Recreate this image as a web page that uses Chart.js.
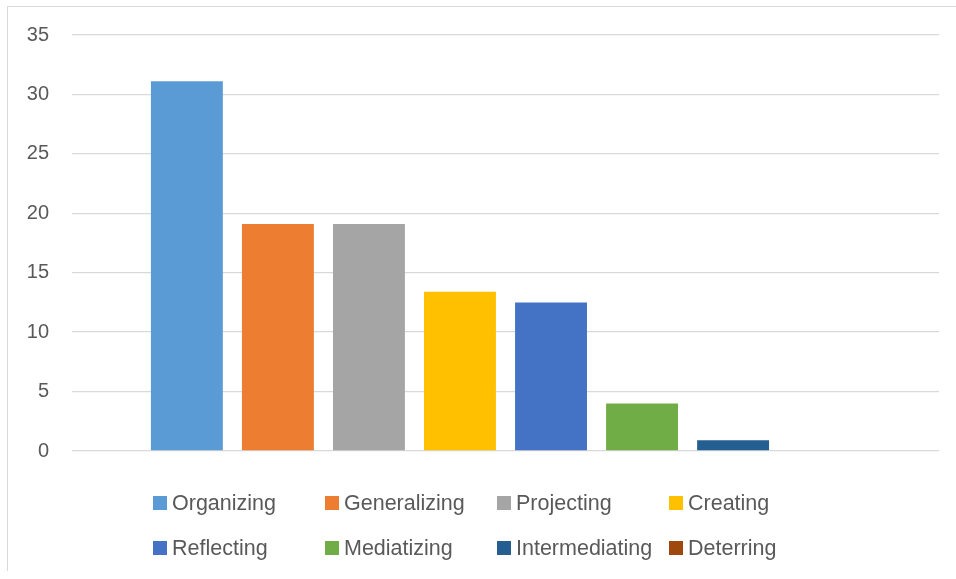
<!DOCTYPE html>
<html>
<head>
<meta charset="utf-8">
<script src="https://cdn.jsdelivr.net/npm/chart.js@4/dist/chart.umd.min.js"></script>
<style>
    html, body { margin: 0; padding: 0; background: #fff; }
    .wrap { position: relative; width: 956px; height: 579px; overflow: hidden; }
    .frame { position: absolute; left: 7px; top: 6px; width: 1000px; height: 564px;
             border-left: 1px solid #d9d9d9; border-top: 1px solid #d9d9d9; }
    canvas { position: absolute; left: 0; top: 0; }
</style>
</head>
<body>
<div class="wrap">
    <div class="frame"></div>
    <canvas id="grafico" width="956" height="579"></canvas>
</div>
<script>
const series = ['Organizing', 'Generalizing', 'Projecting', 'Creating', 'Reflecting', 'Mediatizing', 'Intermediating', 'Deterring'];
const valores = [31.1, 19.1, 19.1, 13.4, 12.5, 4.0, 0.9, 0];
const cores = ['#5B9BD5', '#ED7D31', '#A5A5A5', '#FFC000', '#4472C4', '#70AD47', '#255E91', '#9E480E'];
const yTicks = [0, 5, 10, 15, 20, 25, 30, 35];

const fonte = '"Liberation Sans", Arial, sans-serif';
const corTexto = '#595959';

// legenda em grade, 4 colunas iguais como no Excel
const legendaGrade = {
    id: 'legendaGrade',
    afterDraw: (chart) => {
        const c = chart.ctx;
        const x0 = 153, passo = 172, linhas = [503, 548], caixa = 14;
        c.save();
        c.font = '21.5px ' + fonte;
        c.textBaseline = 'middle';
        c.fillStyle = corTexto;
        chart.data.datasets.forEach((ds, i) => {
            const x = x0 + (i % 4) * passo;
            const y = linhas[Math.floor(i / 4)];
            c.fillStyle = ds.backgroundColor;
            c.fillRect(x, y - caixa / 2, caixa, caixa);
            c.fillStyle = corTexto;
            c.fillText(ds.label, x + caixa + 5, y + 1);
        });
        c.restore();
    }
};

const ctx = document.getElementById('grafico');

new Chart(ctx, {
    type: 'bar',
    data: {
        labels: [''],
        datasets: series.map((nome, i) => ({
            label: nome,
            data: [valores[i]],
            backgroundColor: cores[i],
            borderWidth: 0,
            categoryPercentage: 0.84,
            barPercentage: 0.79
        }))
    },
    options: {
        responsive: false,
        animation: false,
        layout: {
            padding: { top: 35, right: 17, bottom: 128, left: 0 }
        },
        plugins: {
            legend: { display: false },
            tooltip: { enabled: false }
        },
        scales: {
            x: { display: false },
            y: {
                min: 0,
                max: 35,
                afterFit: (scale) => { scale.width = 72; },
                afterBuildTicks: (scale) => { scale.ticks = yTicks.map(v => ({ value: v })); },
                border: { display: false },
                grid: { color: '#d9d9d9', lineWidth: 1.3, drawTicks: false },
                ticks: {
                    padding: 23,
                    color: corTexto,
                    font: { family: fonte, size: 20 }
                }
            }
        }
    },
    plugins: [legendaGrade]
});
</script>
</body>
</html>
